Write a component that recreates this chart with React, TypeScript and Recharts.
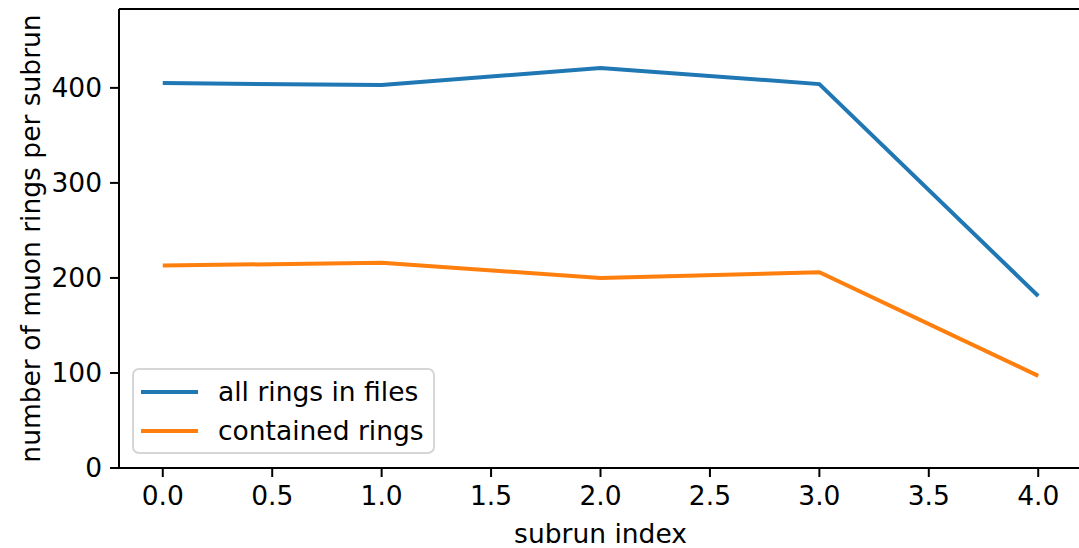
import React from 'react';
import { LineChart, Line, XAxis, YAxis, Legend, ReferenceLine } from 'recharts';

const subrunIndex = [0, 1, 2, 3, 4];
const allRings = [405, 403, 421, 404, 181];
const containedRings = [213, 216, 200, 206, 97];
const xTicks = [0, 0.5, 1, 1.5, 2, 2.5, 3, 3.5, 4];
const yTicks = [0, 100, 200, 300, 400];
const yMax = 483;
const seriesNames = ['all rings in files', 'contained rings'];
const seriesColors = ['#1f77b4', '#ff7f0e'];

const data = subrunIndex.map((x, i) => ({ x, all: allRings[i], contained: containedRings[i] }));

const FONT = '"DejaVu Sans", sans-serif';
const FS = 26.5;

const LegendBox = () => (
  <div
    style={{
      width: 303,
      height: 86,
      boxSizing: 'border-box',
      border: '2px solid #d6d6d6',
      borderRadius: 7,
      background: 'rgba(255,255,255,0.8)',
      fontFamily: FONT,
      fontSize: FS,
      color: '#000',
      position: 'relative',
    }}
  >
    {seriesNames.map((n, i) => (
      <div
        key={n}
        style={{ position: 'absolute', left: 0, top: 22 + i * 39 - 18, height: 36, display: 'flex', alignItems: 'center', whiteSpace: 'nowrap' }}
      >
        <div style={{ width: 57, height: 4, background: seriesColors[i], marginLeft: 7, marginRight: 20 }} />
        <span style={{ lineHeight: '36px' }}>{n}</span>
      </div>
    ))}
  </div>
);

export default function App() {
  return (
    <div style={{ position: 'absolute', left: 0, top: 0, width: 1079, height: 548, overflow: 'hidden', background: '#fff' }}>
      <LineChart width={1090} height={548} data={data} margin={{ top: 9, right: 8, left: 0, bottom: 0 }}>
        <XAxis
          dataKey="x"
          type="number"
          domain={[-0.2, 4.2]}
          ticks={xTicks}
          tickFormatter={(v: number) => v.toFixed(1)}
          height={80}
          tickSize={9}
          tickMargin={9}
          axisLine={{ stroke: '#000', strokeWidth: 2 }}
          tickLine={{ stroke: '#000', strokeWidth: 2 }}
          tick={{ fill: '#000', fontSize: FS, fontFamily: FONT }}
          allowDataOverflow
          label={{ value: 'subrun index', position: 'insideBottom', offset: 5, fill: '#000', fontSize: FS, fontFamily: FONT }}
        />
        <YAxis
          type="number"
          domain={[0, yMax]}
          ticks={yTicks}
          width={119}
          tickSize={9}
          tickMargin={8}
          axisLine={{ stroke: '#000', strokeWidth: 2 }}
          tickLine={{ stroke: '#000', strokeWidth: 2 }}
          tick={{ fill: '#000', fontSize: FS, fontFamily: FONT }}
          allowDataOverflow
          label={{
            value: 'number of muon rings per subrun',
            angle: -90,
            position: 'insideLeft',
            offset: 31,
            fill: '#000',
            fontSize: FS,
            fontFamily: FONT,
            style: { textAnchor: 'middle' },
          }}
        />
        <ReferenceLine y={yMax} stroke="#000" strokeWidth={2} ifOverflow="visible" />
        <Line dataKey="all" name={seriesNames[0]} stroke={seriesColors[0]} strokeWidth={4} dot={false} isAnimationActive={false} />
        <Line dataKey="contained" name={seriesNames[1]} stroke={seriesColors[1]} strokeWidth={4} dot={false} isAnimationActive={false} />
        <Legend
          layout="vertical"
          align="center"
          verticalAlign="middle"
          content={() => <LegendBox />}
          wrapperStyle={{ position: 'absolute', left: 132, top: 368, width: 303, height: 86 }}
        />
      </LineChart>
    </div>
  );
}
